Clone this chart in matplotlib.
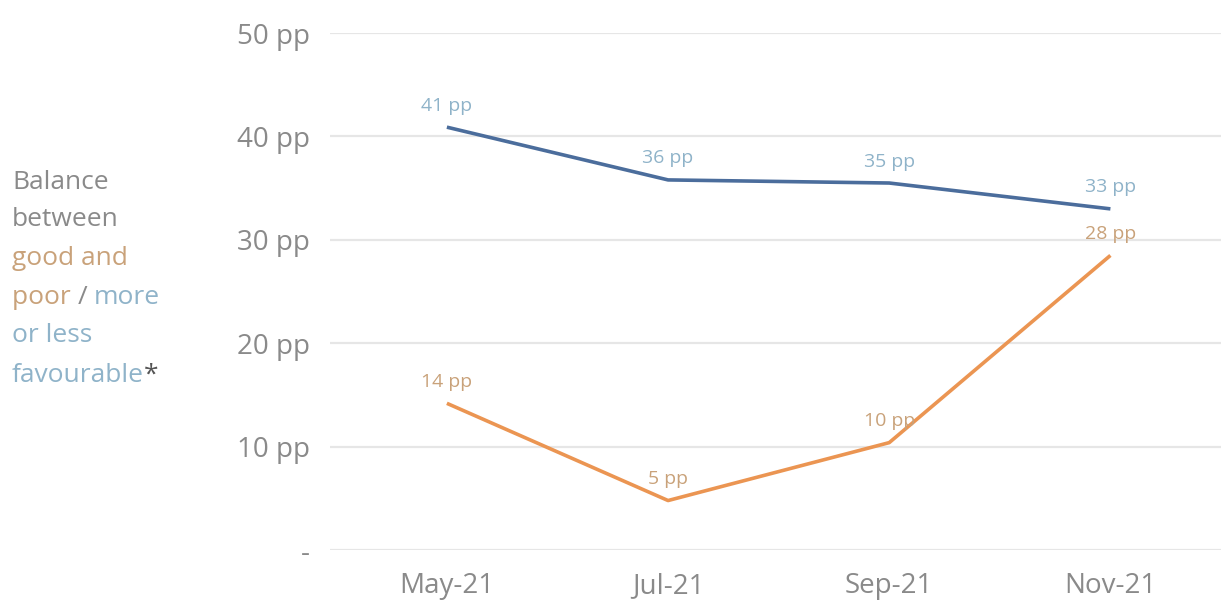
import numpy as np
import matplotlib
matplotlib.use("Agg")
import matplotlib.pyplot as plt

plt.rcParams['font.family'] = ['Open Sans', 'DejaVu Sans']

months = ["May-21", "Jul-21", "Sep-21", "Nov-21"]
favourable = [40.9, 35.8, 35.5, 33.0]
good_poor = [14.2, 4.8, 10.4, 28.5]
fav_labels = ["41 pp", "36 pp", "35 pp", "33 pp"]
gp_labels = ["14 pp", "5 pp", "10 pp", "28 pp"]
yticks = [0, 10, 20, 30, 40, 50]
ytick_labels = ["-", "10 pp", "20 pp", "30 pp", "40 pp", "50 pp"]

blue = "#4b6d9c"
orange = "#eb9552"
blue_txt = "#8fb3c9"
orange_txt = "#c9a27a"
grey_txt = "#8a8a8a"

fig = plt.figure(figsize=(12.21, 6.12), dpi=100)
ax = fig.add_axes([0.27, 0.101, 0.73, 0.845])

x = np.arange(len(months))
ax.plot(x, favourable, color=blue, lw=2.6, solid_capstyle='butt')
ax.plot(x, good_poor, color=orange, lw=2.6, solid_capstyle='butt')

for i in range(len(x)):
    ax.annotate(fav_labels[i], (x[i], favourable[i]), xytext=(0, 9),
                textcoords='offset points', ha='center', va='bottom',
                fontsize=14, color=blue_txt)
    ax.annotate(gp_labels[i], (x[i], good_poor[i]), xytext=(0, 9),
                textcoords='offset points', ha='center', va='bottom',
                fontsize=14, color=orange_txt)

ax.set_xlim(-0.53, 3.5)
ax.set_ylim(0, 50)
ax.set_xticks(x)
ax.set_xticklabels(months, fontsize=20, color=grey_txt)
ax.set_yticks(yticks)
ax.set_yticklabels(ytick_labels, fontsize=20, color=grey_txt)
ax.tick_params(length=0, pad=14)
ax.tick_params(axis='x', pad=16)
ax.grid(axis='y', color="#e6e6e6", lw=1.6)
ax.set_axisbelow(True)
for s in ax.spines.values():
    s.set_visible(False)

# left side legend text, mixed colours
fs = 19
lx = 12 / 1221
rows = [182, 219, 258, 297, 335, 375]
def fy(py):
    return 1 - py / 612

fig.text(lx, fy(rows[0]), "Balance", color=grey_txt, fontsize=fs, va='center')
fig.text(lx, fy(rows[1]), "between", color=grey_txt, fontsize=fs, va='center')
fig.text(lx, fy(rows[2]), "good and", color=orange_txt, fontsize=fs, va='center')
t = fig.text(lx, fy(rows[3]), "poor ", color=orange_txt, fontsize=fs, va='center')
a1 = ax.annotate("/ ", xy=(1, 0), xycoords=t, va='bottom', ha='left',
                 color=grey_txt, fontsize=fs)
ax.annotate("more", xy=(1, 0), xycoords=a1, va='bottom', ha='left',
            color=blue_txt, fontsize=fs)
fig.text(lx, fy(rows[4]), "or less", color=blue_txt, fontsize=fs, va='center')
f = fig.text(lx, fy(rows[5]), "favourable", color=blue_txt, fontsize=fs, va='center')
ax.annotate("*", xy=(1, 0), xycoords=f, va='bottom', ha='left',
            color="#555555", fontsize=fs)

fig.savefig("out.png", dpi=100)
